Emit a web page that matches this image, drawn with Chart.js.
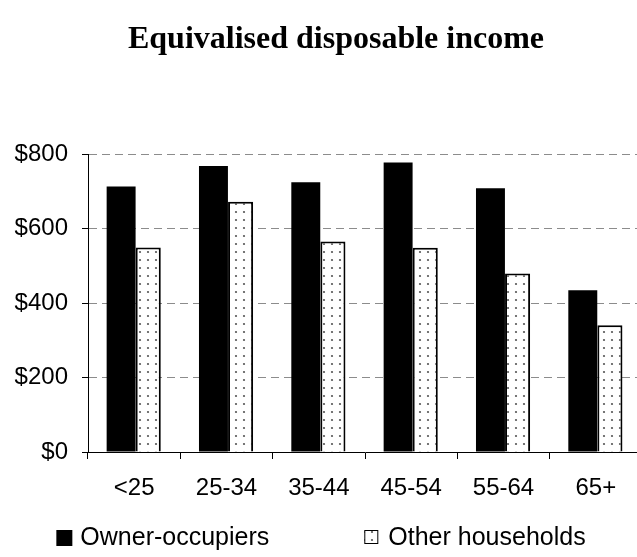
<!DOCTYPE html>
<html lang="en">
<head>
<meta charset="UTF-8">
<title>Equivalised disposable income</title>
<script src="https://cdn.jsdelivr.net/npm/chart.js"></script>
<style>
  html, body { margin: 0; padding: 0; background: #fff; overflow: hidden; }
  #wrap { width: 642px; height: 557px; position: relative; }
</style>
</head>
<body>
<div id="wrap"><canvas id="incomeChart"></canvas></div>
<script>
const ageGroups = ['<25', '25-34', '35-44', '45-54', '55-64', '65+'];
const ownerOccupiers = [713, 768, 724, 777, 708, 434];
const otherHouseholds = [549, 672, 565, 548, 479, 340];
const seriesNames = ['Owner-occupiers', 'Other households'];
const yTicks = [0, 200, 400, 600, 800];
const chartTitle = 'Equivalised disposable income';

const sansFont = '"Liberation Sans", Arial, sans-serif';
const serifFont = '"Liberation Serif", "Times New Roman", serif';

// sparse dot fill for the second series
function dotPattern() {
    const tile = document.createElement('canvas');
    tile.width = 8;
    tile.height = 8;
    const c = tile.getContext('2d');
    c.fillStyle = '#fff';
    c.fillRect(0, 0, 8, 8);
    c.fillStyle = '#555';
    c.beginPath();
    c.arc(4, 4, 1.1, 0, Math.PI * 2);
    c.fill();
    return c.createPattern(tile, 'repeat');
}
const dots = dotPattern();

// heading sits a little right of the canvas centre
const heading = {
    id: 'heading',
    afterDraw(chart) {
        const ctx = chart.ctx;
        ctx.save();
        ctx.font = 'bold 32px ' + serifFont;
        ctx.fillStyle = '#000';
        ctx.textAlign = 'center';
        ctx.textBaseline = 'alphabetic';
        ctx.fillText(chartTitle, 336, 48);
        ctx.restore();
    }
};

// legend row under the axis, centred on the canvas
const bottomLegend = {
    id: 'bottomLegend',
    afterDraw(chart) {
        const ctx = chart.ctx;
        const box = 16, textGap = 8, itemGap = 95;
        ctx.save();
        ctx.font = '25px ' + sansFont;
        ctx.textBaseline = 'middle';
        const widths = seriesNames.map(n => ctx.measureText(n).width);
        const total = 2 * (box + textGap) + widths[0] + widths[1] + itemGap;
        let x = (chart.width - total) / 2;
        const y = 538;
        seriesNames.forEach((name, i) => {
            if (i === 0) {
                ctx.fillStyle = '#000';
                ctx.fillRect(x, y - box / 2, box, box);
            } else {
                ctx.fillStyle = dots;
                ctx.fillRect(x, y - box / 2, box - 2, box - 2);
                ctx.strokeStyle = '#000';
                ctx.lineWidth = 1;
                ctx.strokeRect(x + 0.5, y - box / 2 + 0.5, box - 3, box - 3);
            }
            ctx.fillStyle = '#000';
            ctx.fillText(name, x + box + textGap, y);
            x += box + textGap + widths[i] + itemGap;
        });
        ctx.restore();
    }
};

new Chart(document.getElementById('incomeChart'), {
    type: 'bar',
    data: {
        labels: ageGroups,
        datasets: [{
            label: seriesNames[0],
            data: ownerOccupiers,
            backgroundColor: '#000',
            borderWidth: 0,
            categoryPercentage: 0.565,
            barPercentage: 1.11
        }, {
            label: seriesNames[1],
            data: otherHouseholds,
            backgroundColor: dots,
            borderColor: '#000',
            borderWidth: 2,
            categoryPercentage: 0.61,
            barPercentage: 0.89
        }]
    },
    options: {
        responsive: true,
        maintainAspectRatio: false,
        animation: false,
        layout: { padding: { top: 154, left: 0, right: 0, bottom: 0 } },
        plugins: {
            legend: { display: false },
            tooltip: { enabled: false },
            title: { display: false }
        },
        scales: {
            x: {
                afterFit: scale => { scale.height = 105; },
                grid: {
                    drawOnChartArea: false,
                    tickColor: '#000',
                    tickLength: 7
                },
                border: { color: '#000', width: 1 },
                ticks: {
                    color: '#000',
                    font: { family: sansFont, size: 24 },
                    padding: 15
                }
            },
            y: {
                min: 0,
                max: 800,
                afterFit: scale => { scale.width = 88; },
                afterBuildTicks: scale => { scale.ticks = yTicks.map(v => ({ value: v })); },
                grid: {
                    color: c => (c.tick && c.tick.value === 0) ? 'rgba(0,0,0,0)' : '#8c8c8c',
                    tickColor: '#000',
                    tickLength: 6,
                    lineWidth: 1
                },
                border: { color: '#000', width: 1, dash: [8, 5] },
                ticks: {
                    color: '#000',
                    font: { family: sansFont, size: 24 },
                    padding: 14,
                    callback: v => '$' + v
                }
            }
        }
    },
    plugins: [heading, bottomLegend]
});
</script>
</body>
</html>
